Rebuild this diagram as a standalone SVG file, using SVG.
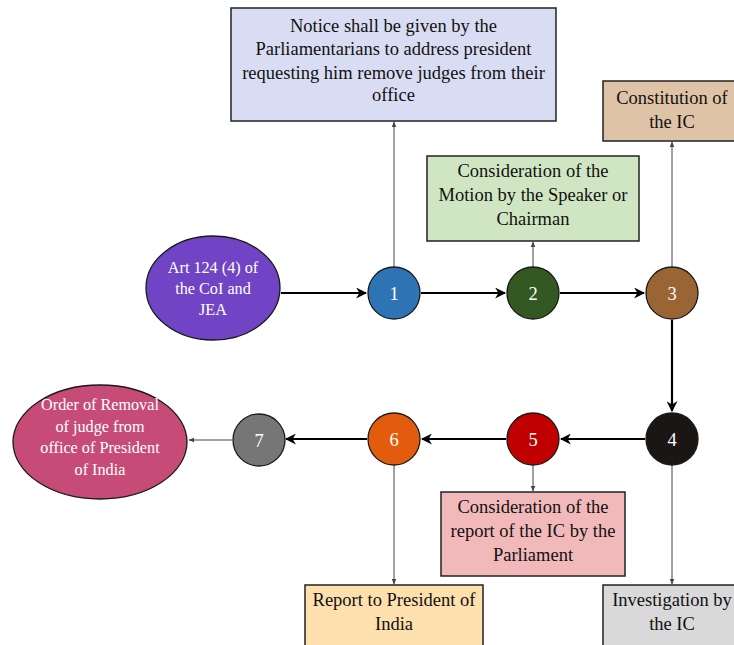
<svg xmlns="http://www.w3.org/2000/svg" width="734" height="645" viewBox="0 0 734 645">
<style>
text{font-family:'Liberation Serif','DejaVu Serif',serif;font-size:18.5px;text-anchor:middle;fill:#111}
.w{fill:#fff}
.e{font-size:16.2px}
.box{stroke:#222;stroke-width:1.5}
.c{stroke:#1a1a1a;stroke-width:1.3}
.thick{stroke:#000;stroke-width:2.2;fill:none}
.thin{stroke:#444;stroke-width:1;fill:none}
</style>
<defs>
<marker id="ah" viewBox="0 0 10 10" refX="9" refY="5" markerWidth="5" markerHeight="5" orient="auto" markerUnits="strokeWidth"><path d="M0,0 L10,5 L0,10 L3,5 z" fill="#000"/></marker>
<marker id="as" viewBox="0 0 10 10" refX="9" refY="5" markerWidth="6" markerHeight="6" orient="auto" markerUnits="strokeWidth"><path d="M0,1 L10,5 L0,9 z" fill="#444"/></marker>
</defs>
<g id="connectors">
<line class="thick" x1="281" y1="293" x2="366" y2="293" marker-end="url(#ah)"/>
<line class="thick" x1="421" y1="293" x2="505" y2="293" marker-end="url(#ah)"/>
<line class="thick" x1="560" y1="293" x2="644" y2="293" marker-end="url(#ah)"/>
<line class="thick" x1="672" y1="320" x2="672" y2="411" marker-end="url(#ah)"/>
<line class="thick" x1="645" y1="439" x2="561" y2="439" marker-end="url(#ah)"/>
<line class="thick" x1="506" y1="439" x2="422" y2="439" marker-end="url(#ah)"/>
<line class="thick" x1="367" y1="439" x2="286" y2="439" marker-end="url(#ah)"/>
<line class="thin" x1="232" y1="440" x2="189" y2="440" marker-end="url(#as)"/>
<line class="thin" x1="394" y1="267" x2="394" y2="122" marker-end="url(#as)"/>
<line class="thin" x1="533" y1="267" x2="533" y2="242" marker-end="url(#as)"/>
<line class="thin" x1="672" y1="267" x2="672" y2="142" marker-end="url(#as)"/>
<line class="thin" x1="672" y1="465" x2="672" y2="584" marker-end="url(#as)"/>
<line class="thin" x1="533" y1="465" x2="533" y2="491" marker-end="url(#as)"/>
<line class="thin" x1="394" y1="465" x2="394" y2="584" marker-end="url(#as)"/>
</g>
<g id="notice">
<rect class="box" x="231" y="8" width="325" height="113" fill="#d9ddf3"/>
<text x="393.5" y="32">Notice shall be given by the</text>
<text x="393.5" y="55">Parliamentarians to address president</text>
<text x="393.5" y="78.5">requesting him remove judges from their</text>
<text x="393.5" y="101">office</text>
</g>
<g id="motion">
<rect class="box" x="427" y="156" width="212" height="85" fill="#d0e6c3"/>
<text x="533" y="177">Consideration of the</text>
<text x="533" y="201">Motion by the Speaker or</text>
<text x="533" y="225">Chairman</text>
</g>
<g id="constitution">
<rect class="box" x="603" y="81" width="140" height="60" fill="#dfc3a6"/>
<text x="672" y="104">Constitution of</text>
<text x="672" y="128">the IC</text>
</g>
<g id="art">
<ellipse class="c" cx="213" cy="288" rx="67" ry="52" fill="#7044c4"/>
<text class="w e" x="213" y="273">Art 124 (4) of</text>
<text class="w e" x="213" y="294">the CoI and</text>
<text class="w e" x="213" y="315">JEA</text>
</g>
<g id="n1"><circle class="c" cx="394" cy="293" r="26" fill="#2e74b5"/><text class="w" x="394" y="299.5">1</text></g>
<g id="n2"><circle class="c" cx="533" cy="293" r="26" fill="#345822"/><text class="w" x="533" y="299.5">2</text></g>
<g id="n3"><circle class="c" cx="672" cy="293" r="26" fill="#9a6535"/><text class="w" x="672" y="299.5">3</text></g>
<g id="n4"><circle class="c" cx="672" cy="439" r="26" fill="#1a1614"/><text class="w" x="672" y="445.5">4</text></g>
<g id="n5"><circle class="c" cx="533" cy="439" r="26" fill="#c00000"/><text class="w" x="533" y="445.5">5</text></g>
<g id="n6"><circle class="c" cx="394" cy="439" r="26" fill="#e35c0e"/><text class="w" x="394" y="445.5">6</text></g>
<g id="n7"><circle class="c" cx="259" cy="440" r="26" fill="#767676"/><text class="w" x="259" y="446.5">7</text></g>
<g id="order">
<ellipse class="c" cx="100" cy="442" rx="87" ry="57" fill="#c64b76"/>
<text class="w e" x="100" y="410">Order of Removal</text>
<text class="w e" x="100" y="432">of judge from</text>
<text class="w e" x="100" y="453">office of President</text>
<text class="w e" x="100" y="475">of India</text>
</g>
<g id="parliament">
<rect class="box" x="441" y="492" width="184" height="84" fill="#f2b9bb"/>
<text x="533" y="513">Consideration of the</text>
<text x="533" y="537">report of the IC by the</text>
<text x="533" y="561">Parliament</text>
</g>
<g id="report">
<rect class="box" x="305" y="585" width="178" height="70" fill="#fedfae"/>
<text x="394" y="606">Report to President of</text>
<text x="394" y="630">India</text>
</g>
<g id="investigation">
<rect class="box" x="603" y="585" width="140" height="70" fill="#d9d9d9"/>
<text x="672" y="606">Investigation by</text>
<text x="672" y="630">the IC</text>
</g>
</svg>
